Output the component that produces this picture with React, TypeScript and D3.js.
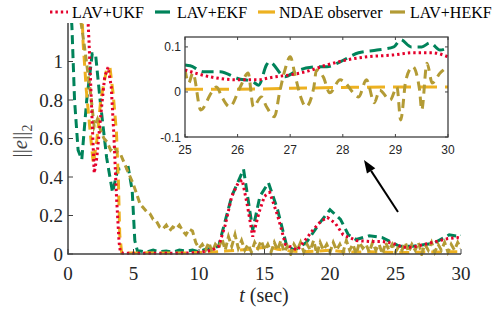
import React from "react";
import * as d3 from "d3";

// ---- data ----
const ukfT = [0, 1.0, 1.5, 1.6, 1.75, 2.0, 2.2, 2.5, 2.8, 3.06, 3.3, 3.5, 3.7, 3.9, 4.0, 4.2, 5, 6, 7, 8, 9, 10, 11, 11.5, 12, 12.5, 13.0, 13.3, 13.7, 14.1, 14.6, 15.0, 15.4, 16.0, 16.6, 17.5, 18.2, 18.7, 19.3, 19.8, 20.4, 21, 22, 23, 24, 24.5, 25, 25.6, 26.3, 26.9, 27.5, 28.4, 29, 29.7, 30];
const ukfV = [2.0, 1.6, 1.25, 1.11, 0.85, 0.42, 0.5, 0.72, 0.92, 0.97, 0.87, 0.62, 0.3, 0.06, 0.01, 0.004, 0.004, 0.004, 0.004, 0.004, 0.005, 0.008, 0.02, 0.04, 0.15, 0.3, 0.37, 0.385, 0.25, 0.09, 0.22, 0.3, 0.32, 0.2, 0.05, 0.02, 0.08, 0.125, 0.17, 0.19, 0.16, 0.1, 0.07, 0.065, 0.065, 0.06, 0.05, 0.035, 0.035, 0.045, 0.055, 0.07, 0.08, 0.085, 0.08];

const ekfT = [0, 0.3, 0.5, 0.77, 1.05, 1.43, 1.85, 2.1, 2.45, 2.95, 3.4, 3.8, 4.6, 4.9, 5.0, 5.1, 5.3, 5.5, 6, 6.5, 7, 7.5, 8, 8.5, 9, 9.5, 10, 10.5, 11, 11.5, 11.8, 12.5, 13.4, 14.1, 14.65, 15.3, 16.0, 16.7, 17.3, 18.2, 19.2, 20.0, 20.8, 21.4, 22, 23, 24, 25.3, 26.3, 27.9, 29.1, 29.9, 30];
const ekfV = [1.5, 1.18, 0.8, 0.54, 0.49, 0.8, 1.04, 1.04, 0.8, 0.5, 0.32, 0.44, 0.45, 0.33, 0.2, 0.07, 0.015, 0.015, 0.01, 0.02, 0.012, 0.015, 0.01, 0.02, 0.015, 0.02, 0.012, 0.025, 0.03, 0.04, 0.12, 0.3, 0.44, 0.125, 0.3, 0.37, 0.23, 0.04, 0.02, 0.06, 0.16, 0.23, 0.18, 0.1, 0.075, 0.095, 0.085, 0.04, 0.04, 0.055, 0.1, 0.09, 0.095];

const ndaeT = [0, 1.0, 1.15, 1.4, 1.7, 1.93, 2.2, 2.5, 2.95, 3.2, 3.45, 3.7, 3.85, 3.95, 4.1, 5, 6, 7, 8, 9, 10, 11, 12, 13, 14, 15, 15.5, 16, 17, 18, 19, 20, 21, 22, 23, 24, 25, 26, 27, 28, 29, 30];
const ndaeV = [1.6, 1.4, 1.1, 0.85, 0.63, 0.47, 0.59, 0.8, 0.96, 0.97, 0.83, 0.63, 0.37, 0.1, 0.005, 0.005, 0.006, 0.005, 0.006, 0.005, 0.008, 0.01, 0.015, 0.02, 0.025, 0.035, 0.035, 0.025, 0.015, 0.012, 0.015, 0.02, 0.012, 0.01, 0.012, 0.01, 0.008, 0.008, 0.01, 0.01, 0.012, 0.012];

// LAV+HEKF sampled every 0.25 s from t = 0
const hekfStep = 0.25;
const hekfV = [
  1.6, 1.5, 1.4, 1.3, 1.2, 1.08, 0.95, 0.82, 0.66, 0.7, 0.64, 0.6, 0.58, 0.54, 0.56, 0.53,
  0.52, 0.48, 0.44, 0.4, 0.36, 0.31, 0.26, 0.24, 0.22, 0.21, 0.18, 0.17, 0.14, 0.13, 0.15, 0.12,
  0.14, 0.13, 0.15, 0.12, 0.1, 0.13, 0.12, 0.06, 0.03,
  0.05, 0.02, 0.06, 0.01, 0.05, 0.03, 0.08, 0.02, 0.09, 0.04, 0.1, 0.03, 0.07, 0.02, 0.05, 0.01,
  0.06, 0.03, 0.07, 0.02, 0.05, 0.01, 0.06, 0.02, 0.07, 0.01, 0.04, 0.0, 0.05, 0.02, 0.06, 0.01,
  0.05, 0.02, 0.07, 0.0, 0.06, 0.02, 0.05, 0.01, 0.06, 0.02, 0.05, 0.01, 0.07, 0.02, 0.05, 0.0,
  0.06, 0.03, 0.05, 0.01, 0.06, 0.02, 0.05, 0.0, 0.06, 0.02, 0.05, 0.01, 0.04, 0.02, 0.06, 0.01,
  0.05, 0.02, 0.06, 0.0, 0.05, 0.02, 0.06, 0.01, 0.05, 0.02, 0.06, 0.01, 0.05, 0.02, 0.06, 0.03,
];

// inset (25..30 s)
const inUkfT = [25, 25.5, 26, 26.37, 26.68, 27, 27.3, 27.7, 28.07, 28.46, 28.95, 29.33, 29.7, 30];
const inUkfV = [0.049, 0.033, 0.027, 0.027, 0.033, 0.038, 0.045, 0.06, 0.071, 0.078, 0.082, 0.087, 0.087, 0.078];
const inEkfT = [25, 25.1, 25.35, 25.67, 26, 26.3, 26.4, 26.55, 26.6, 26.9, 27.1, 27.3, 27.5, 27.7, 27.95, 28.3, 28.65, 28.97, 29.1, 29.3, 29.5, 29.66, 29.85, 30];
const inEkfV = [0.06, 0.058, 0.045, 0.045, 0.03, 0.022, 0.015, 0.06, 0.067, 0.034, 0.045, 0.053, 0.056, 0.056, 0.067, 0.087, 0.093, 0.1, 0.116, 0.1, 0.1, 0.109, 0.093, 0.098];
const inNdaeT = [25, 26, 27, 28, 29, 30];
const inNdaeV = [0.006, 0.006, 0.008, 0.01, 0.011, 0.011];
const inHekfT = [25, 25.07, 25.15, 25.3, 25.5, 25.6, 25.7, 25.85, 26.05, 26.2, 26.3, 26.45, 26.55, 26.7, 26.8, 26.9, 27.0, 27.1, 27.2, 27.3, 27.45, 27.5, 27.63, 27.75, 27.95, 28.05, 28.2, 28.3, 28.45, 28.6, 28.7, 28.9, 29.03, 29.1, 29.2, 29.33, 29.46, 29.5, 29.6, 29.7, 29.85, 30];
const inHekfV = [0.05, 0.02, 0.042, -0.04, -0.002, 0.011, -0.011, -0.033, 0.011, 0.042, -0.033, -0.011, -0.033, -0.055, 0.0, 0.049, 0.078, 0.033, -0.011, -0.033, 0.011, 0.049, 0.033, -0.002, 0.027, 0.02, -0.002, -0.011, 0.027, -0.024, 0.004, -0.018, 0.011, -0.062, 0.027, 0.056, 0.004, -0.04, 0.064, 0.02, 0.042, 0.056];

const xTicks = [0, 5, 10, 15, 20, 25, 30];
const yTicks = [0, 0.2, 0.4, 0.6, 0.8, 1];
const inXTicks = [25, 26, 27, 28, 29, 30];
const inYTicks = [-0.1, 0, 0.1];

const RED = "#e4002b";
const GREEN = "#00835a";
const YELLOW = "#edb120";
const OLIVE = "#b39b35";
const AXIS = "#404040";
const SERIF = "'Liberation Serif', 'Times New Roman', serif";
const SANS = "'Liberation Sans', Arial, sans-serif";

const zip = (t: number[], v: number[]) => t.map((d, i) => [d, v[i]] as [number, number]);

export default function App() {
  const W = 492, H = 311;
  const x = d3.scaleLinear().domain([0, 30]).range([68, 461]);
  const y = d3.scaleLinear().domain([0, 1.2]).range([254, 23]);
  const line = d3.line<[number, number]>().x((d) => x(d[0])).y((d) => y(d[1]));

  const ix = d3.scaleLinear().domain([25, 30]).range([185, 448]);
  const iy = d3.scaleLinear().domain([-0.1, 0.122]).range([137, 37]);
  const iline = d3.line<[number, number]>().x((d) => ix(d[0])).y((d) => iy(d[1])).curve(d3.curveMonotoneX);

  const hekf = hekfV.map((v, i) => [i * hekfStep, v] as [number, number]);

  // arrow
  const ax0 = 398, ay0 = 212, ax1 = 364, ay1 = 160;
  const ang = Math.atan2(ay1 - ay0, ax1 - ax0);
  const hl = 13, hw = 5;
  const bx = ax1 - hl * Math.cos(ang), by = ay1 - hl * Math.sin(ang);
  const head = [
    [ax1, ay1],
    [bx + hw * Math.sin(ang), by - hw * Math.cos(ang)],
    [bx - hw * Math.sin(ang), by + hw * Math.cos(ang)],
  ].map((p) => p.join(",")).join(" ");

  const legend = [
    { label: "LAV+UKF", color: RED, x1: 50, x2: 68, tx: 72, dash: "2.4 3" },
    { label: "LAV+EKF", color: GREEN, x1: 155, x2: 170, tx: 177, dash: "none" },
    { label: "NDAE observer", color: YELLOW, x1: 258, x2: 275, tx: 279, dash: "none" },
    { label: "LAV+HEKF", color: OLIVE, x1: 390, x2: 405, tx: 410, dash: "none" },
  ];

  return (
    <svg width={W} height={H} style={{ position: "absolute", left: 0, top: 0, background: "#fff" }}>
      <defs>
        <clipPath id="mainClip">
          <rect x={68} y={23} width={393} height={233} />
        </clipPath>
        <clipPath id="insetClip">
          <rect x={185} y={37} width={263} height={100} />
        </clipPath>
      </defs>

      {/* main series */}
      <g clipPath="url(#mainClip)" fill="none" strokeWidth={3}>
        <path d={line(zip(ekfT, ekfV))!} stroke={GREEN} strokeDasharray="9 5" />
        <path d={line(zip(ndaeT, ndaeV))!} stroke={YELLOW} strokeDasharray="10 6" />
        <path d={line(hekf)!} stroke={OLIVE} strokeDasharray="7 4" />
        <path d={line(zip(ukfT, ukfV))!} stroke={RED} strokeDasharray="2.4 3" />
      </g>

      {/* main axes */}
      <g stroke={AXIS} strokeWidth={1.5}>
        <line x1={68} x2={68} y1={23} y2={254.5} />
        <line x1={67.5} x2={461} y1={254} y2={254} />
        {xTicks.map((t) => (
          <line key={"xt" + t} x1={x(t)} x2={x(t)} y1={254} y2={249} strokeWidth={1} />
        ))}
        {yTicks.map((t) => (
          <line key={"yt" + t} x1={68} x2={73} y1={y(t)} y2={y(t)} strokeWidth={1} />
        ))}
      </g>
      <g fontFamily={SERIF} fontSize={19} fill="#262626">
        {xTicks.map((t) => (
          <text key={"xl" + t} x={x(t)} y={280} textAnchor="middle">{t}</text>
        ))}
        {yTicks.map((t) => (
          <text key={"yl" + t} x={63} y={y(t) + 6.5} textAnchor="end">{t}</text>
        ))}
        <text x={264} y={302} textAnchor="middle" fontSize={20}>
          <tspan fontStyle="italic">t</tspan> (sec)
        </text>
        <text transform="translate(27,141) rotate(-90)" textAnchor="middle" fontSize={21} fill="#444">
          ||<tspan fontStyle="italic">e</tspan>||<tspan fontSize={14} dy={5}>2</tspan>
        </text>
      </g>

      {/* arrow */}
      <line x1={ax0} y1={ay0} x2={bx} y2={by} stroke="#000" strokeWidth={2} />
      <polygon points={head} fill="#000" />

      {/* inset */}
      <rect x={185} y={37} width={263} height={100} fill="#fff" />
      <g clipPath="url(#insetClip)" fill="none" strokeWidth={3}>
        <path d={iline(zip(inNdaeT, inNdaeV))!} stroke={YELLOW} strokeDasharray="18 8" />
        <path d={iline(zip(inEkfT, inEkfV))!} stroke={GREEN} strokeDasharray="12 6" />
        <path d={iline(zip(inHekfT, inHekfV))!} stroke={OLIVE} strokeDasharray="9 6" />
        <path d={iline(zip(inUkfT, inUkfV))!} stroke={RED} strokeDasharray="2.4 3" />
      </g>
      <g stroke={AXIS} strokeWidth={1}>
        <rect x={185} y={37} width={263} height={100} fill="none" strokeWidth={1.3} />
        {inXTicks.map((t) => (
          <g key={"ixt" + t}>
            <line x1={ix(t)} x2={ix(t)} y1={137} y2={134} />
            <line x1={ix(t)} x2={ix(t)} y1={37} y2={40} />
          </g>
        ))}
        {inYTicks.map((t) => (
          <g key={"iyt" + t}>
            <line x1={185} x2={188} y1={iy(t)} y2={iy(t)} />
            <line x1={448} x2={445} y1={iy(t)} y2={iy(t)} />
          </g>
        ))}
      </g>
      <g fontFamily={SANS} fontSize={12} fill="#262626">
        {inXTicks.map((t) => (
          <text key={"ixl" + t} x={ix(t)} y={154} textAnchor="middle">{t}</text>
        ))}
        {inYTicks.map((t) => (
          <text key={"iyl" + t} x={181} y={iy(t) + 4.5} textAnchor="end">{t}</text>
        ))}
      </g>

      {/* legend */}
      <g fontFamily={SERIF} fontSize={16} fill="#000">
        {legend.map((l) => (
          <g key={l.label}>
            <line x1={l.x1} x2={l.x2} y1={12} y2={12} stroke={l.color} strokeWidth={3.2} strokeDasharray={l.dash} />
            <text x={l.tx} y={17.5}>{l.label}</text>
          </g>
        ))}
      </g>
    </svg>
  );
}
